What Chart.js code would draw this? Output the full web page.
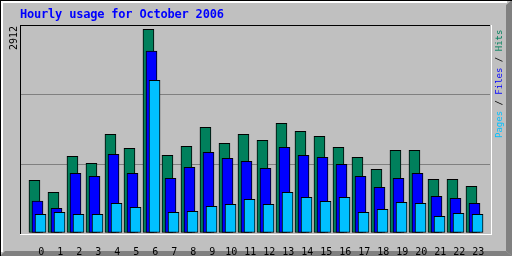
<!DOCTYPE html>
<html>
<head>
<meta charset="utf-8">
<script src="https://cdn.jsdelivr.net/npm/chart.js@4.4.1/dist/chart.umd.min.js"></script>
<style>
  html, body { margin: 0; padding: 0; background: #C0C0C0; }
  #wrap { position: relative; width: 512px; height: 256px; overflow: hidden; }
  #c { position: absolute; left: 0; top: 0; }
  #title {
    position: absolute; left: 20px; top: 8px;
    font: bold 12px "DejaVu Sans Mono", monospace; line-height: 12px;
    letter-spacing: -0.2px; color: #0000FF; white-space: nowrap;
  }
  #legend {
    position: absolute; left: 495px; top: 137.5px;
    transform: rotate(-90deg); transform-origin: left top;
    font: 9px "DejaVu Sans Mono", monospace; line-height: 9px; white-space: nowrap;
    color: #000000;
  }
</style>
</head>
<body>
<div id="wrap">
  <canvas id="c" width="512" height="256"></canvas>
  <div id="title">Hourly usage for October 2006</div>
  <div id="legend"><span style="color:#00C0FF">Pages</span> / <span style="color:#0000FF">Files</span> / <span style="color:#00805C">Hits</span></div>
</div>
<script>
const hourLabels = ['0','1','2','3','4','5','6','7','8','9','10','11','12','13','14','15','16','17','18','19','20','21','22','23'];
const hitsData  = [753, 582, 1097, 996, 1411, 1211, 2912, 1111, 1239, 1511, 1282, 1411, 1325, 1568, 1454, 1382, 1225, 1082, 911, 1182, 1182, 768, 768, 668];
const filesData = [457, 353, 853, 811, 1125, 853, 2602, 782, 939, 1154, 1068, 1025, 925, 1225, 1111, 1082, 982, 811, 653, 782, 853, 525, 496, 425];
const pagesData = [267, 296, 267, 267, 425, 367, 2183, 296, 310, 382, 410, 482, 410, 582, 510, 453, 510, 296, 339, 439, 425, 239, 282, 267];
const yAxisLabel = '2912';

const HIT_COLOR = '#00805C', FILE_COLOR = '#0000FF', PAGE_COLOR = '#00C0FF';

function pts(arr, shift) { return arr.map((v, i) => ({ x: i + shift, y: v })); }

const framePlugin = {
  id: 'frame',
  beforeDraw(chart) {
    const ctx = chart.ctx;
    ctx.save();
    ctx.fillStyle = '#C0C0C0';
    ctx.fillRect(0, 0, 512, 256);
    ctx.fillStyle = '#808080';
    ctx.beginPath();
    ctx.moveTo(512, 0); ctx.lineTo(512, 256); ctx.lineTo(506, 251); ctx.lineTo(506, 5); ctx.closePath(); ctx.fill();
    ctx.beginPath();
    ctx.moveTo(0, 256); ctx.lineTo(512, 256); ctx.lineTo(506, 251); ctx.lineTo(5, 251); ctx.closePath(); ctx.fill();
    ctx.fillStyle = '#FFFFFF';
    ctx.fillRect(1, 1, 506, 2);
    ctx.fillRect(1, 1, 2, 251);
    ctx.fillStyle = '#000000';
    ctx.fillRect(0, 0, 512, 1);
    ctx.fillRect(0, 0, 1, 256);
    ctx.restore();
  },
  afterDraw(chart) {
    const ctx = chart.ctx;
    const a = chart.chartArea;
    ctx.save();
    ctx.fillStyle = '#000000';
    ctx.fillRect(a.left - 1, a.top - 1, a.right - a.left + 1, 1);
    ctx.fillRect(a.left - 1, a.top - 1, 1, a.bottom - a.top + 2);
    ctx.fillStyle = '#FFFFFF';
    ctx.fillRect(a.right + 1, a.top - 1, 1, a.bottom - a.top + 3);
    ctx.fillRect(a.left - 1, a.bottom + 1, a.right - a.left + 3, 1);
    ctx.restore();
  }
};

const barStyle = { barThickness: 11, borderWidth: 1, borderColor: '#000000', borderSkipped: false };

new Chart(document.getElementById('c'), {
  type: 'bar',
  data: {
    datasets: [
      Object.assign({ label: 'Hits',  data: pts(hitsData, -0.36),  backgroundColor: HIT_COLOR,  order: 3 }, barStyle),
      Object.assign({ label: 'Files', data: pts(filesData, -0.20), backgroundColor: FILE_COLOR, order: 2 }, barStyle),
      Object.assign({ label: 'Pages', data: pts(pagesData, -0.04), backgroundColor: PAGE_COLOR, order: 1 }, barStyle)
    ]
  },
  options: {
    responsive: false,
    animation: false,
    devicePixelRatio: 1,
    layout: { padding: { left: 0, top: 26, right: 22, bottom: 0 } },
    plugins: { legend: { display: false }, tooltip: { enabled: false }, title: { display: false } },
    datasets: { bar: { grouped: false } },
    scales: {
      x: {
        type: 'linear',
        offset: false,
        min: -1.068, max: 23.616,
        grid: { display: false, offset: false },
        border: { display: false },
        afterBuildTicks: s => { s.ticks = hourLabels.map((l, i) => ({ value: i })); },
        afterFit: s => { s.height = 23; },
        ticks: {
          autoSkip: false, maxRotation: 0, minRotation: 0, padding: 5,
          color: '#000000',
          font: { family: '"DejaVu Sans Mono", monospace', size: 10 },
          callback: v => hourLabels[v]
        }
      },
      y: {
        min: 0,
        max: Math.round(Math.max(...hitsData) * 1.016),
        border: { display: false },
        afterBuildTicks: s => { s.ticks = [0, 1, 2, 3].map(k => ({ value: s.max * k / 3 })); },
        afterFit: s => { s.width = 21; },
        ticks: { display: false },
        grid: {
          drawTicks: false,
          lineWidth: 1,
          color: c => (c.index === 1 || c.index === 2) ? '#808080' : 'rgba(0,0,0,0)'
        },
        title: {
          display: true, text: yAxisLabel, align: 'end', color: '#000000',
          padding: { top: 8, bottom: 0 },
          font: { family: '"DejaVu Sans Mono", monospace', size: 10 }
        }
      }
    }
  },
  plugins: [framePlugin]
});
</script>
</body>
</html>
